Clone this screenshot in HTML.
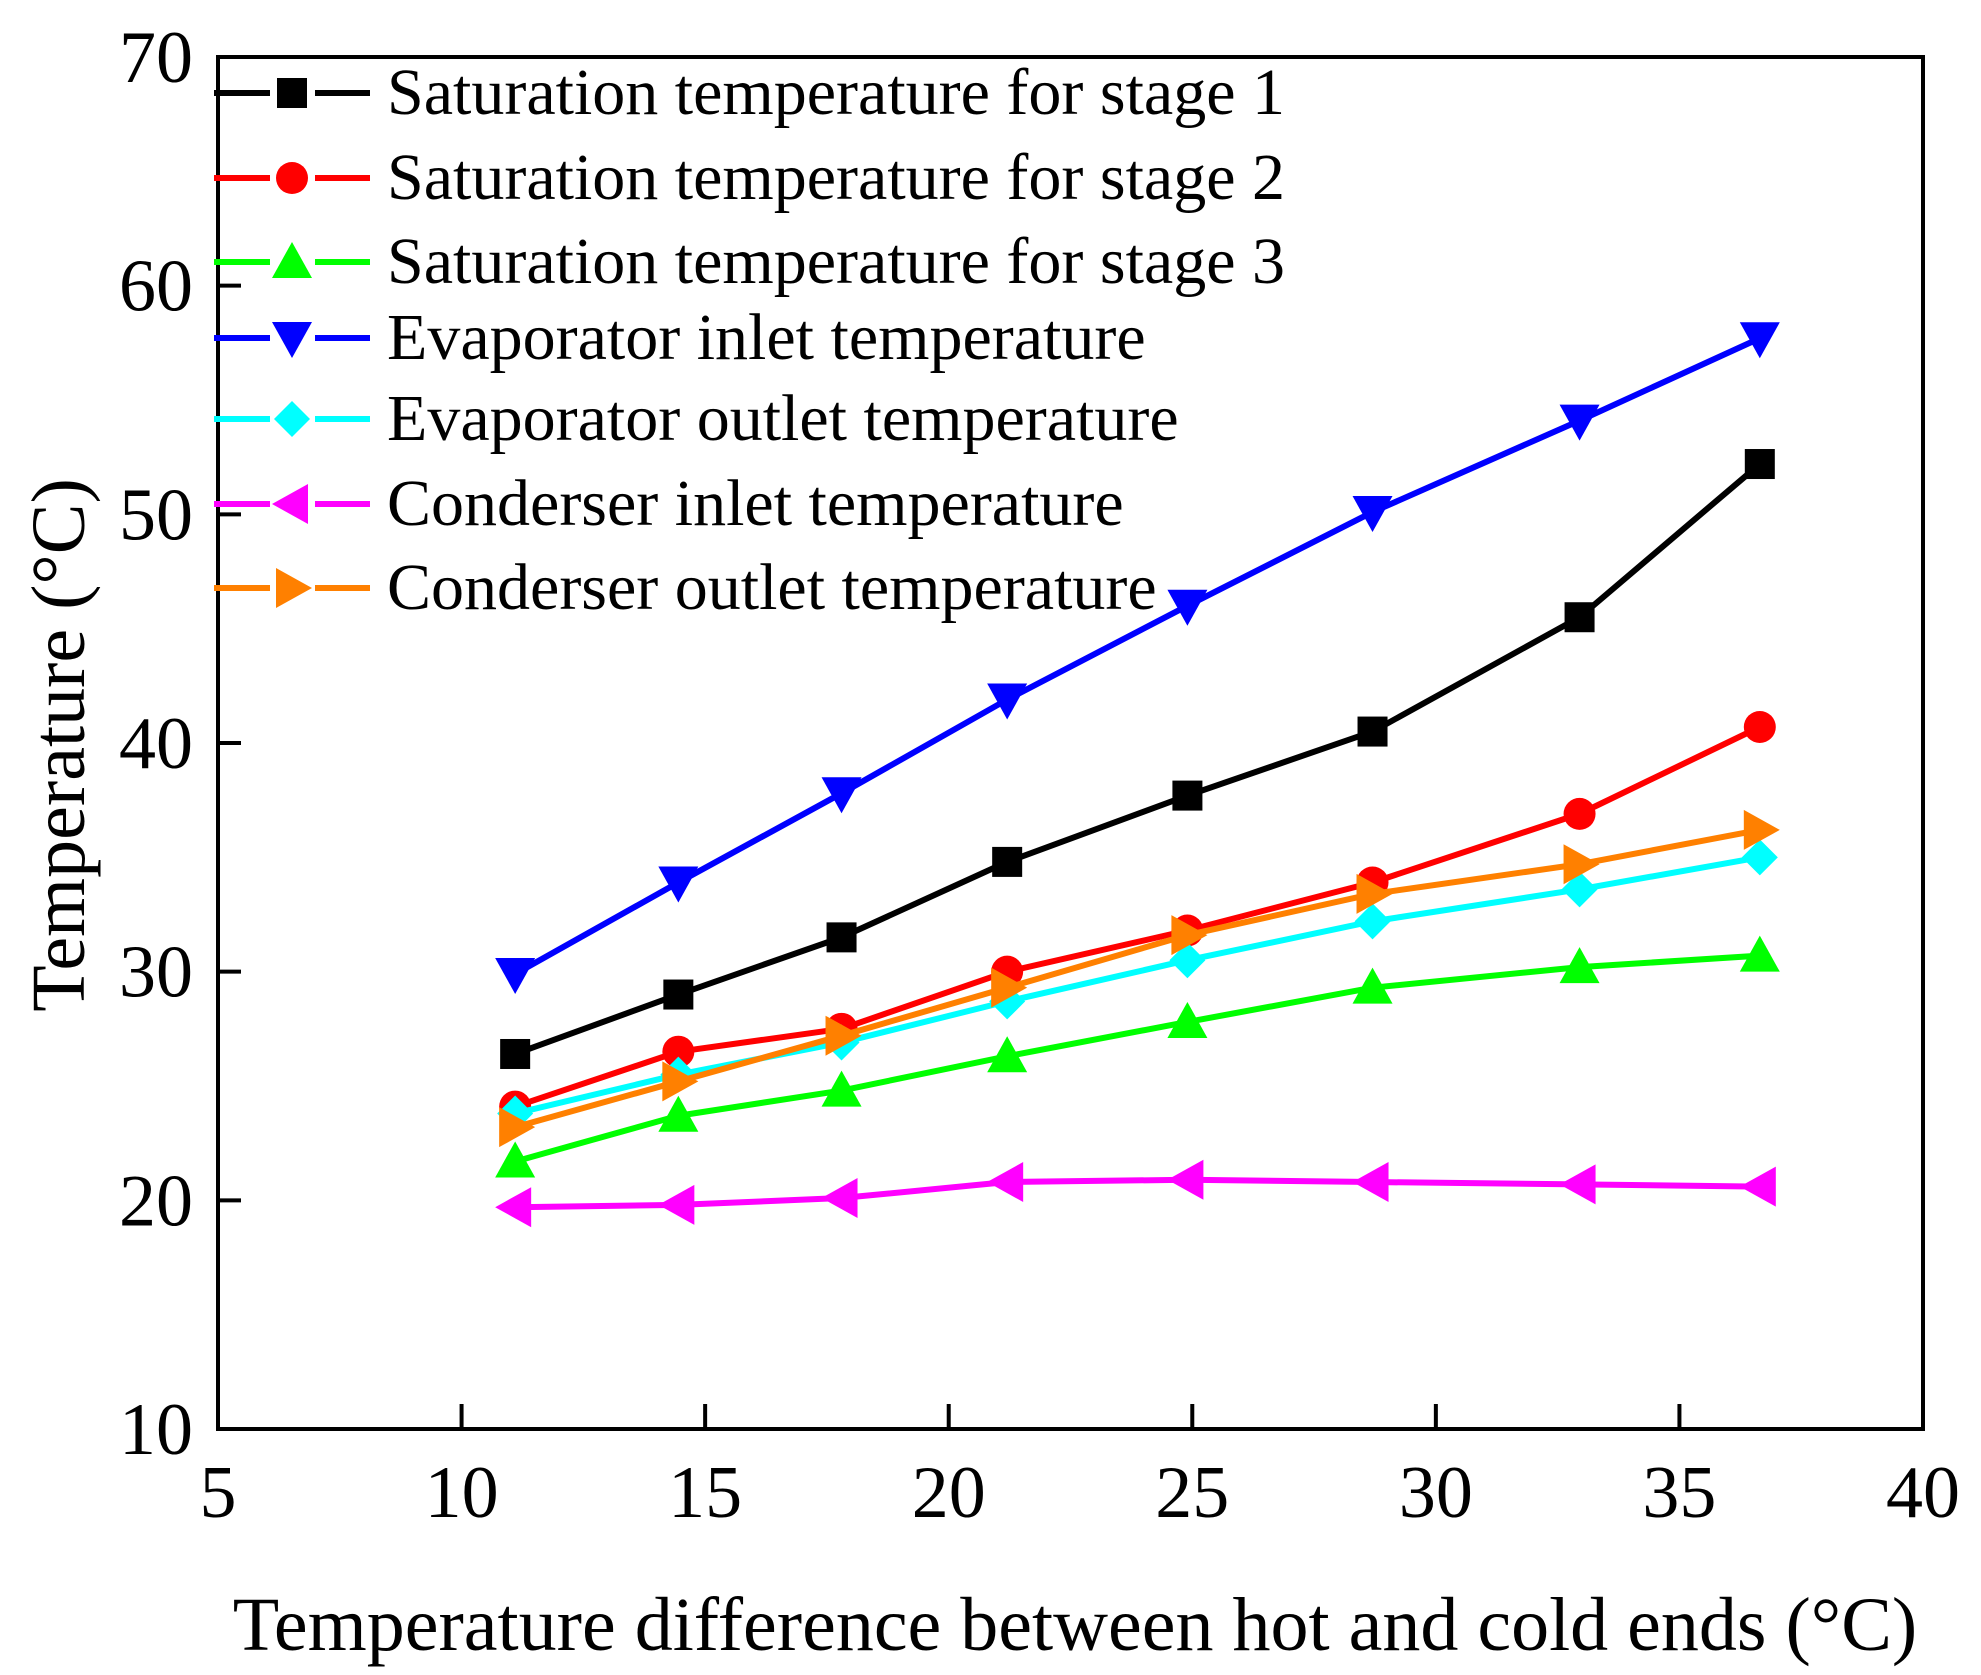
<!DOCTYPE html>
<html><head><meta charset="utf-8"><style>
html,body{margin:0;padding:0;background:#fff;}
svg{display:block;font-family:"Liberation Serif",serif;}
</style></head><body>
<svg id="chart" width="1981" height="1675" viewBox="0 0 1981 1675"></svg>
<script>
const xValues=[11.1,14.45,17.8,21.2,24.9,28.7,32.95,36.65];
const sat1=[26.4,29.0,31.5,34.8,37.7,40.5,45.5,52.2];
const sat2=[24.1,26.5,27.5,30.0,31.8,33.9,36.9,40.7];
const sat3=[21.7,23.7,24.8,26.3,27.8,29.3,30.2,30.7];
const evapIn=[29.9,33.9,37.8,41.9,46.0,50.1,54.1,57.7];
const evapOut=[23.8,25.5,26.9,28.7,30.5,32.2,33.6,35.0];
const condIn=[19.7,19.8,20.1,20.8,20.9,20.8,20.7,20.6];
const condOut=[23.2,25.2,27.2,29.3,31.6,33.4,34.7,36.2];
const xTicks=[5,10,15,20,25,30,35,40];
const yTicks=[10,20,30,40,50,60,70];
const seriesNames=["Saturation temperature for stage 1","Saturation temperature for stage 2","Saturation temperature for stage 3","Evaporator inlet temperature","Evaporator outlet temperature","Conderser inlet temperature","Conderser outlet temperature"];

const NS="http://www.w3.org/2000/svg";
const svg=document.getElementById('chart');
const L=218,R=1923,T=57,B=1429;
const X=v=>L+(v-5)*(R-L)/35;
const Y=v=>B-(v-10)*(B-T)/60;
function mk(tag,attrs,parent){const e=document.createElementNS(NS,tag);for(const k in attrs)e.setAttribute(k,attrs[k]);(parent||svg).appendChild(e);return e;}

const series=[
 {d:sat1,c:"#000000",m:"square",n:"sat-stage1"},
 {d:sat2,c:"#ff0000",m:"circle",n:"sat-stage2"},
 {d:sat3,c:"#00ff00",m:"up",n:"sat-stage3"},
 {d:evapIn,c:"#0000ff",m:"down",n:"evaporator-inlet"},
 {d:evapOut,c:"#00ffff",m:"diamond",n:"evaporator-outlet"},
 {d:condIn,c:"#ff00ff",m:"left",n:"condenser-inlet"},
 {d:condOut,c:"#ff8000",m:"right",n:"condenser-outlet"}
];
function marker(type,cx,cy,c,g){
 const s=18;let e;
 if(type==="square")e=mk('rect',{x:cx-15,y:cy-15,width:30,height:30,fill:c},g);
 else if(type==="circle")e=mk('circle',{cx:cx,cy:cy,r:16,fill:c},g);
 else{let p;
  if(type==="up")p=[[cx,cy-s-2],[cx+s+2,cy+s-2],[cx-s-2,cy+s-2]];
  if(type==="down")p=[[cx,cy+s+2],[cx+s+2,cy-s+2],[cx-s-2,cy-s+2]];
  if(type==="left")p=[[cx-s-2,cy],[cx+s-2,cy-s-2],[cx+s-2,cy+s+2]];
  if(type==="right")p=[[cx+s+2,cy],[cx-s+2,cy-s-2],[cx-s+2,cy+s+2]];
  if(type==="diamond")p=[[cx,cy-s],[cx+s,cy],[cx,cy+s],[cx-s,cy]];
  e=mk('polygon',{points:p.map(q=>q.join(',')).join(' '),fill:c},g);}
 
 
}
series.forEach(s=>{
 const g=mk('g',{});
 
 
 const pts=xValues.map((x,i)=>X(x)+','+Y(s.d[i])).join(' ');
 const pl=mk('polyline',{points:pts,fill:'none',stroke:s.c,'stroke-width':6,'stroke-linejoin':'round'},g);
 
 
 xValues.forEach((x,i)=>marker(s.m,X(x),Y(s.d[i]),s.c,g));
});

// axes
const ax=mk('rect',{x:L,y:T,width:R-L,height:B-T,fill:'none',stroke:'#000','stroke-width':4});


yTicks.forEach(v=>{
 const t=mk('line',{x1:L,x2:L+23,y1:Y(v),y2:Y(v),stroke:'#000','stroke-width':4});
 
 
 const tx=mk('text',{x:L-25,y:Y(v)+25,'font-size':74,'text-anchor':'end'});
 tx.textContent=v;
 
 
});
xTicks.forEach(v=>{
 const t=mk('line',{x1:X(v),x2:X(v),y1:B,y2:B-25,stroke:'#000','stroke-width':4});
 
 
 const tx=mk('text',{x:X(v),y:B+88,'font-size':74,'text-anchor':'middle'});
 tx.textContent=v;
 
 
});
const xt=mk('text',{x:1075,y:1650,'font-size':76,'text-anchor':'middle'});
xt.textContent="Temperature difference between hot and cold ends (°C)";


const yt=mk('text',{x:0,y:0,'font-size':76,'text-anchor':'middle',transform:'translate(84,745) rotate(-90)'});
yt.textContent="Temperature (°C)";



// legend
const legY=[93,178,262,338,419,504,588];
series.forEach((s,i)=>{
 const g=mk('g',{});
 
 
 const y=legY[i];
 mk('line',{x1:214,x2:270,y1:y,y2:y,stroke:s.c,'stroke-width':6},g);
 mk('line',{x1:315,x2:370,y1:y,y2:y,stroke:s.c,'stroke-width':6},g);
 marker(s.m,292,y,s.c,g);
 const t=mk('text',{x:387,y:y+21,'font-size':66},g);
 t.textContent=seriesNames[i];
});
</script>
</body></html>
